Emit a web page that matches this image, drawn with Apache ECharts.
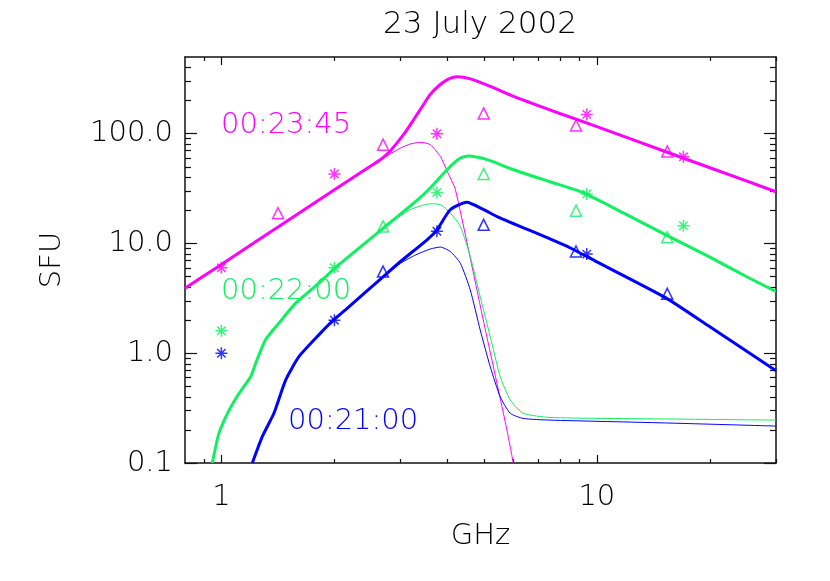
<!DOCTYPE html>
<html>
<head>
<meta charset="utf-8">
<script src="https://cdn.jsdelivr.net/npm/echarts@6/dist/echarts.min.js"></script>
<style>
  html, body { margin: 0; padding: 0; background: #fff; }
  #chart { width: 830px; height: 581px; }
</style>
</head>
<body>
<div id="chart"></div>
<script>
// spectra [GHz, SFU]
const magentaTotal = [[0.8,3.9],[1.0,6.45],[1.5,16.1],[2.0,30.8],[2.4,46.5],[2.65,58],[2.8,68],[2.94,83],[3.1,105],[3.25,134],[3.42,175],[3.6,228],[3.8,275],[3.99,310],[4.24,330],[4.6,316],[5.2,270],[6.0,219],[8.0,152],[10,116],[15,70],[20,49],[30,29.6]];
const magentaPart = [[0.8,3.9],[1.0,6.45],[1.5,16.1],[2.0,30.8],[2.4,46.5],[2.65,58],[3.0,74],[3.2,81],[3.4,83.5],[3.6,79.5],[3.83,62],[4.0,45],[4.2,30.9],[5.0,1.9],[5.76,0.2],[6.3,0.04]];
const greenTotal = [[0.946,0.1],[0.985,0.186],[1.047,0.30],[1.114,0.43],[1.196,0.61],[1.234,0.81],[1.31,1.32],[1.423,1.88],[1.577,2.86],[1.818,4.35],[2.01,6.0],[2.7,13.8],[3.33,25],[3.6,32],[3.99,47],[4.33,60],[4.55,62.6],[5.1,58],[6.0,47],[7.5,36.5],[9.22,28.9],[12,18.3],[15.4,11.8],[20,7.5],[25,5.0],[30,3.65]];
const greenPart = [[0.946,0.1],[0.985,0.186],[1.047,0.30],[1.114,0.43],[1.196,0.61],[1.234,0.81],[1.31,1.32],[1.423,1.88],[1.577,2.86],[1.818,4.35],[2.01,6.0],[2.7,13.8],[2.85,15.8],[3.18,20.3],[3.6,23],[3.83,22.6],[4.07,18.9],[4.33,14.3],[4.6,7.6],[4.89,3.28],[5.2,1.42],[5.53,0.61],[5.88,0.375],[6.36,0.284],[7.5,0.26],[15,0.252],[30,0.246]];
const blueTotal = [[1.209,0.1],[1.285,0.174],[1.38,0.284],[1.483,0.57],[1.609,0.93],[1.818,1.47],[1.99,2.01],[2.14,2.48],[2.7,5.0],[3.0,6.85],[3.53,10.8],[3.75,13.3],[4.07,20.3],[4.5,23.7],[5.0,20.3],[5.42,17.6],[7.5,11.0],[8.5,9.1],[10,6.8],[15.3,3.18],[20,1.74],[30,0.694]];
const bluePart = [[1.209,0.1],[1.285,0.174],[1.38,0.284],[1.483,0.57],[1.609,0.93],[1.818,1.47],[1.99,2.01],[2.14,2.48],[2.7,5.0],[3.0,6.6],[3.3,7.9],[3.6,8.9],[3.83,9.28],[4.07,8.45],[4.33,6.6],[4.6,3.78],[4.89,1.63],[5.2,0.755],[5.53,0.40],[5.88,0.284],[6.36,0.255],[7.5,0.246],[15,0.232],[30,0.217]];

// observed fluxes (asterisks / triangles)
const starFreq = [1.0, 2.0, 3.75, 9.4, 17.0];
const triFreq = [1.415, 2.695, 4.995, 8.8, 15.4];
const magentaStar = [6.0, 43, 100, 150, 61.6];
const magentaTri = [18.9, 79.5, 153, 119, 69];
const greenStar = [1.6, 6.0, 29.2, 28.2, 14.5];
const greenTri = [null, 14.3, 43, 19.9, 11.4];
const blueStar = [1.0, 2.0, 12.9, 8.0, null];
const blueTri = [null, 5.55, 14.8, 8.45, 3.48];

const xMajor = [1, 10];
const xMinor = [0.9, 2, 3, 4, 5, 6, 7, 8, 9, 20, 30];
const yMajor = [0.1, 1, 10, 100];
const yMinor = [0.2, 0.3, 0.4, 0.5, 0.6, 0.7, 0.8, 0.9, 2, 3, 4, 5, 6, 7, 8, 9, 20, 30, 40, 50, 60, 70, 80, 90, 200, 300, 400];

const MAGENTA = "#ff00ff";
const GREEN = "#10f060";
const BLUE = "#0000ff";
const AXIS = "#111";
const FONT = "DejaVu Sans";
const WEIGHT = 200;

const asterisk = "path://M0,5L10,5M5,0L5,10M1.5,1.5L8.5,8.5M8.5,1.5L1.5,8.5";

function pairs(freqs, vals) {
  return freqs.map((f, i) => [f, vals[i]]).filter((p) => p[1] != null);
}

function xAxis(position, ticks, len, showLine, label) {
  return {
    type: "log", logBase: 10, min: 0.8, max: 30, position: position,
    axisLine: { show: showLine, onZero: false, lineStyle: { color: AXIS, width: 1.5 } },
    axisTick: { show: true, inside: true, length: len, customValues: ticks, lineStyle: { color: AXIS, width: 1.2 } },
    axisLabel: label ? {
      customValues: xMajor, margin: 20, color: "#000", fontSize: 29, fontFamily: FONT, fontWeight: WEIGHT,
      formatter: (v) => String(Math.round(v)),
    } : { show: false },
    splitLine: { show: false },
  };
}

function yAxis(position, ticks, len, showLine, label) {
  return {
    type: "log", logBase: 10, min: 0.1, max: 500, position: position,
    axisLine: { show: showLine, onZero: false, lineStyle: { color: AXIS, width: 1.5 } },
    axisTick: { show: true, inside: true, length: len, customValues: ticks, lineStyle: { color: AXIS, width: 1.2 } },
    axisLabel: label ? {
      customValues: yMajor, margin: 12, color: "#000", fontSize: 29, fontFamily: FONT, fontWeight: WEIGHT,
      formatter: (v) => v.toFixed(1),
    } : { show: false },
    splitLine: { show: false },
  };
}

const xAxes = [
  xAxis("bottom", xMajor, 8, true, true),
  xAxis("bottom", xMinor, 4, false, false),
  xAxis("top", xMajor, 8, true, false),
  xAxis("top", xMinor, 4, false, false),
];
Object.assign(xAxes[0], {
  name: "GHz", nameLocation: "middle", nameGap: 59,
  nameTextStyle: { color: "#000", fontSize: 29, fontFamily: FONT, fontWeight: WEIGHT },
});
const yAxes = [
  yAxis("left", yMajor, 12, true, true),
  yAxis("left", yMinor, 6, false, false),
  yAxis("right", yMajor, 12, true, false),
  yAxis("right", yMinor, 6, false, false),
];
Object.assign(yAxes[0], {
  name: "SFU", nameLocation: "middle", nameGap: 118,
  nameTextStyle: { color: "#000", fontSize: 29, fontFamily: FONT, fontWeight: WEIGHT },
});

function curve(data, color, width) {
  return {
    type: "line", data: data, symbol: "none", smooth: 0.2, silent: true,
    lineStyle: { color: color, width: width }, z: width > 2 ? 3 : 2,
  };
}

function points(data, color, symbol, size) {
  return {
    type: "scatter", data: data, symbol: symbol, symbolSize: size, silent: true, z: 4,
    itemStyle: { color: "rgba(0,0,0,0)", borderColor: color, borderWidth: 1.5 },
  };
}

const chart = echarts.init(document.getElementById("chart"));

const option = {
  animation: false,
  backgroundColor: "#fff",
  grid: { left: 185, right: 54, top: 57, bottom: 118 },
  xAxis: xAxes,
  yAxis: yAxes,
  graphic: [
    { type: "text", x: 480, y: 25, style: { text: "23 July 2002", fill: "#000", fontSize: 31, fontFamily: FONT, fontWeight: WEIGHT, align: "center", verticalAlign: "middle" } },
    { type: "text", x: 221, y: 125, style: { text: "00:23:45", fill: MAGENTA, fontSize: 29, fontFamily: FONT, fontWeight: WEIGHT, align: "left", verticalAlign: "middle" } },
    { type: "text", x: 221, y: 291, style: { text: "00:22:00", fill: GREEN, fontSize: 29, fontFamily: FONT, fontWeight: WEIGHT, align: "left", verticalAlign: "middle" } },
    { type: "text", x: 288, y: 421, style: { text: "00:21:00", fill: BLUE, fontSize: 29, fontFamily: FONT, fontWeight: WEIGHT, align: "left", verticalAlign: "middle" } },
  ],
  series: [
    curve(magentaPart, MAGENTA, 1),
    curve(greenPart, GREEN, 1),
    curve(bluePart, BLUE, 1),
    curve(magentaTotal, MAGENTA, 3),
    curve(greenTotal, GREEN, 3),
    curve(blueTotal, BLUE, 3),
    points(pairs(starFreq, magentaStar), MAGENTA, asterisk, 12),
    points(pairs(triFreq, magentaTri), MAGENTA, "triangle", 11),
    points(pairs(starFreq, greenStar), GREEN, asterisk, 12),
    points(pairs(triFreq, greenTri), GREEN, "triangle", 11),
    points(pairs(starFreq, blueStar), BLUE, asterisk, 12),
    points(pairs(triFreq, blueTri), BLUE, "triangle", 11),
  ],
};

chart.setOption(option);
</script>
</body>
</html>
